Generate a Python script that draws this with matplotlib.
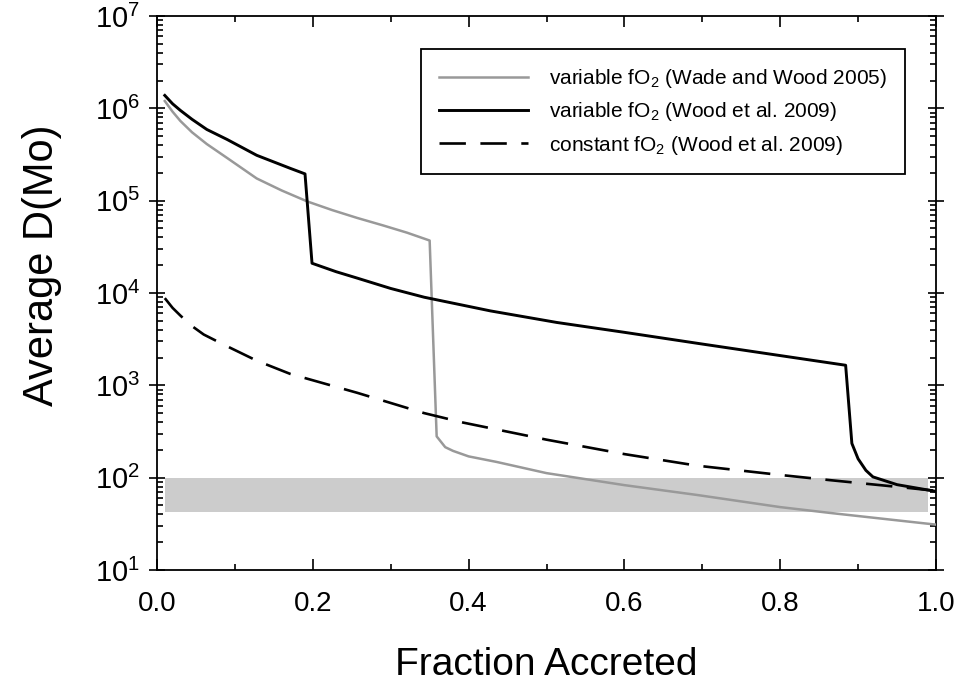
import matplotlib
matplotlib.use("Agg")
import matplotlib.pyplot as plt
from matplotlib.ticker import LogLocator, MultipleLocator, NullFormatter

plt.rcParams['font.family'] = ['Liberation Sans', 'DejaVu Sans']
plt.rcParams['mathtext.fontset'] = 'custom'
plt.rcParams['mathtext.rm'] = 'Liberation Sans'

# Wade and Wood 2005 (variable fO2)
x_ww = [0.01, 0.02, 0.03, 0.045, 0.064, 0.09, 0.128, 0.16, 0.193, 0.225, 0.257, 0.29, 0.321, 0.35,
        0.359, 0.37, 0.38, 0.4, 0.436, 0.5, 0.6, 0.693, 0.8, 0.864, 1.0]
y_ww = [1.2e6, 9.2e5, 7.3e5, 5.5e5, 4.1e5, 2.9e5, 1.74e5, 1.29e5, 9.8e4, 7.9e4, 6.5e4, 5.4e4, 4.5e4, 3.7e4,
        280, 214, 195, 170, 148, 112, 83, 65, 48, 41.5, 31]

# Wood et al. 2009 (variable fO2)
x_wv = [0.01, 0.02, 0.03, 0.045, 0.064, 0.09, 0.128, 0.171, 0.19, 0.199, 0.23, 0.257, 0.3, 0.343, 0.428, 0.513,
        0.6, 0.7, 0.8, 0.884, 0.892, 0.9, 0.91, 0.919, 0.95, 1.0]
y_wv = [1.38e6, 1.12e6, 9.5e5, 7.6e5, 5.9e5, 4.6e5, 3.1e5, 2.24e5, 1.95e5, 2.1e4, 1.7e4, 1.45e4, 1.12e4, 9.0e3, 6.4e3, 4.8e3,
        3.75e3, 2.8e3, 2.1e3, 1.65e3, 235, 160, 120, 102, 84, 71]

# Wood et al. 2009 (constant fO2)
x_wc = [0.01, 0.02, 0.03, 0.043, 0.06, 0.086, 0.128, 0.171, 0.257, 0.343, 0.393, 0.5, 0.6, 0.693, 0.8, 0.864, 0.967, 1.0]
y_wc = [8.8e3, 6.9e3, 5.7e3, 4.5e3, 3.55e3, 2.75e3, 1.85e3, 1.33e3, 830, 500, 395, 258, 180, 135, 107, 94, 77, 72]

band_x = [0.01, 0.99]
band_lo = 43
band_hi = 100

labels = ['variable fO$_2$ (Wade and Wood 2005)',
          'variable fO$_2$ (Wood et al. 2009)',
          'constant fO$_2$ (Wood et al. 2009)']

fig = plt.figure(figsize=(9.59, 6.87), dpi=100)
ax = fig.add_axes([157/959, 1 - 570/687, (936-157)/959, (570-16)/687])

ax.fill_between(band_x, band_lo, band_hi, color='#cccccc', linewidth=0, zorder=1)
ax.plot(x_ww, y_ww, color='#999999', lw=1.8, label=labels[0], zorder=3)
ax.plot(x_wv, y_wv, color='black', lw=2.1, label=labels[1], zorder=4)
ax.plot(x_wc, y_wc, color='black', lw=1.9, dashes=(10, 5.5), label=labels[2], zorder=3)

ax.set_yscale('log')
ax.set_xlim(0, 1)
ax.set_ylim(10, 1e7)
ax.xaxis.set_minor_locator(MultipleLocator(0.1))
ax.yaxis.set_major_locator(LogLocator(base=10, numticks=10))
ax.yaxis.set_minor_locator(LogLocator(base=10, subs=range(2, 10), numticks=100))
ax.yaxis.set_minor_formatter(NullFormatter())
ax.set_xticks([0, 0.2, 0.4, 0.6, 0.8, 1.0])
ax.set_xticklabels(['0.0', '0.2', '0.4', '0.6', '0.8', '1.0'])

ax.tick_params(axis='both', which='both', direction='in', top=True, right=True, width=1.2)
ax.tick_params(axis='both', which='major', length=8)
ax.tick_params(axis='both', which='minor', length=4.5)
ax.tick_params(axis='y', which='major', direction='inout', length=12, labelsize=21, pad=6)
ax.tick_params(axis='x', which='major', labelsize=20, pad=15)
for s in ax.spines.values():
    s.set_linewidth(1.3)

ax.set_xlabel('Fraction Accreted', fontsize=28)
ax.xaxis.set_label_coords(0.5, (570 - 665) / 554, transform=ax.transAxes)
ax.xaxis.label.set_va('center')
ax.set_ylabel('Average D(Mo)', fontsize=30)
ax.yaxis.set_label_coords((42 - 157) / 779, (570 - 265) / 554, transform=ax.transAxes)
ax.yaxis.label.set_va('center')

leg = ax.legend(loc='upper right', bbox_to_anchor=(0.960, 0.940), fontsize=15,
                frameon=True, fancybox=False, framealpha=1, edgecolor='black',
                handlelength=4.3, handletextpad=1.0, borderpad=0.85, labelspacing=0.5,
                borderaxespad=0)
leg.get_frame().set_linewidth(1.3)

fig.savefig('out.png', dpi=100)
